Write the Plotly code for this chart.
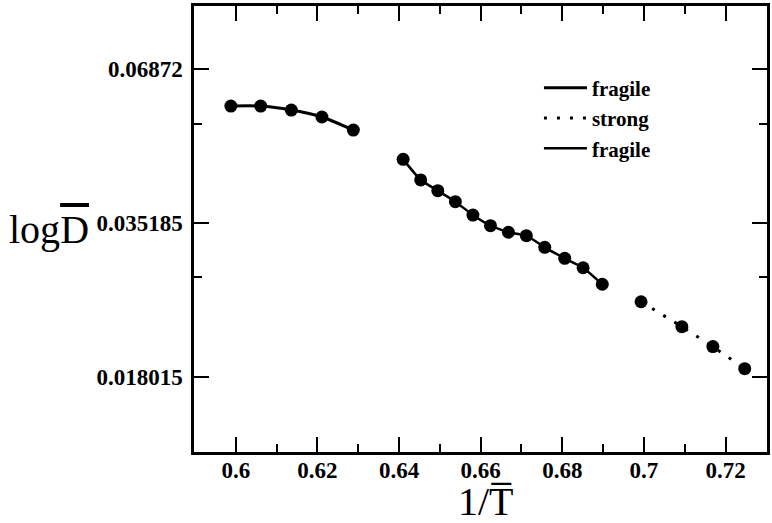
import plotly.graph_objects as go

# --- data ---
x_frag1 = [0.5988, 0.6061, 0.6136, 0.6211, 0.6288]
y_frag1 = [0.05849, 0.05849, 0.05748, 0.05577, 0.05269]

x_frag2 = [0.6410, 0.6453, 0.6495, 0.6538, 0.6581, 0.6624, 0.6668, 0.6712,
           0.6757, 0.6806, 0.6851, 0.6898]
y_frag2 = [0.04638, 0.04240, 0.04047, 0.03858, 0.03640, 0.03475, 0.03377,
           0.03327, 0.03163, 0.03015, 0.02894, 0.02693]

x_strong = [0.6993, 0.7093, 0.7169, 0.7247]
y_strong = [0.02496, 0.02239, 0.02053, 0.01865]

y_tickvals = [0.018015, 0.035185, 0.06872]
y_ticktext = ["0.018015", "0.035185", "0.06872"]
y_minorvals = [0.02776, 0.05417]
x_tickvals = [0.6, 0.62, 0.64, 0.66, 0.68, 0.7, 0.72]
x_ticktext = ["0.6", "0.62", "0.64", "0.66", "0.68", "0.7", "0.72"]

SERIF = "Liberation Serif"
BLACK = "black"

fig = go.Figure()

# line traces (legend entries)
fig.add_trace(go.Scatter(x=x_frag1, y=y_frag1, mode="lines", name="fragile",
                         line=dict(color=BLACK, width=3, shape="spline", smoothing=0.6)))
fig.add_trace(go.Scatter(x=x_strong, y=y_strong, mode="lines", name="strong",
                         line=dict(color=BLACK, width=3, dash="3px,10px")))
fig.add_trace(go.Scatter(x=x_frag2, y=y_frag2, mode="lines", name="fragile",
                         line=dict(color=BLACK, width=2.5, shape="spline", smoothing=0.4)))

# markers
for xs, ys in [(x_frag1, y_frag1), (x_frag2, y_frag2), (x_strong, y_strong)]:
    fig.add_trace(go.Scatter(x=xs, y=ys, mode="markers", showlegend=False,
                             marker=dict(color=BLACK, size=13, symbol="circle")))

axis_common = dict(
    showline=True, linecolor=BLACK, linewidth=2.5, mirror="ticks",
    ticks="inside", ticklen=15, tickwidth=2, tickcolor=BLACK,
    showgrid=False, zeroline=False,
    tickfont=dict(family=SERIF, size=23, color=BLACK, weight="bold"),
)

fig.update_xaxes(
    range=[0.58976, 0.73016], tickmode="array", tickvals=x_tickvals, ticktext=x_ticktext,
    minor=dict(dtick=0.01, tick0=0.59, ticks="inside", ticklen=8, tickwidth=2, tickcolor=BLACK),
    ticklabelstandoff=-4,
    **axis_common,
)
fig.update_yaxes(
    type="log", range=[-1.88677, -1.04384], tickmode="array",
    tickvals=y_tickvals, ticktext=y_ticktext,
    minor=dict(tickmode="array", tickvals=y_minorvals, ticks="inside", ticklen=8,
               tickwidth=2, tickcolor=BLACK),
    ticklabelstandoff=4,
    **axis_common,
)

fig.add_annotation(
    text="1/T\u0305",
    xref="paper", yref="paper", x=0.51, y=-0.056, xanchor="center", yanchor="top",
    showarrow=False, font=dict(family=SERIF, size=40, color=BLACK),
)
fig.add_annotation(
    text='log<span style="text-decoration:overline">D</span>',
    xref="paper", yref="paper", x=-0.3264, y=0.50, xanchor="left", yanchor="middle",
    showarrow=False, font=dict(family=SERIF, size=40, color=BLACK),
)

fig.update_layout(
    width=772, height=523,
    margin=dict(l=194, r=2, t=6, b=71),
    paper_bgcolor="white", plot_bgcolor="white",
    showlegend=True,
    legend=dict(x=0.602, y=0.862, xanchor="left", yanchor="top",
                bgcolor="rgba(0,0,0,0)", borderwidth=0,
                font=dict(family=SERIF, size=21, color=BLACK, weight="bold"),
                tracegroupgap=0, itemwidth=43),
)

fig.write_html("out.html", config={"displayModeBar": False},
               post_script="document.body.style.margin='0';")
